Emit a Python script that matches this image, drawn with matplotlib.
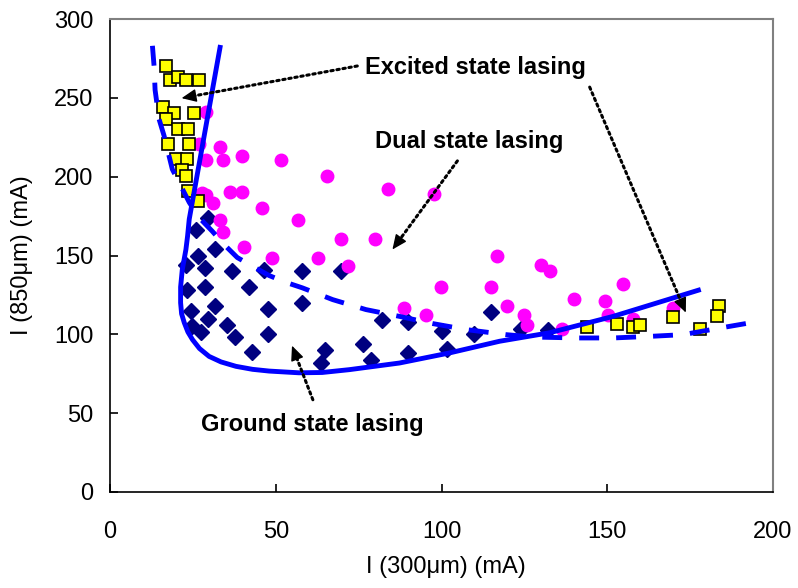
import matplotlib
matplotlib.use("Agg")
import matplotlib.pyplot as plt
import numpy as np

plt.rcParams['font.family'] = ['Liberation Sans', 'DejaVu Sans']

# ---- data ----
# Ground state lasing (navy diamonds)
gs_x = [29.7, 25.9, 31.7, 26.4, 23.0, 28.7, 36.8, 46.5, 23.2, 28.7, 41.8, 24.4, 31.7, 29.7,
        24.7, 27.4, 35.4, 37.7, 42.8, 47.7, 47.7, 57.8, 69.7, 57.8, 82.0, 89.8, 100.0, 64.9,
        63.7, 76.4, 78.8, 89.8, 101.7, 114.8, 109.8, 124.0, 132.0]
gs_y = [174, 166, 154, 150, 144, 142, 140, 141, 128, 130, 130, 115, 118, 110,
        105, 101.5, 106, 98, 89, 116, 100, 140, 140, 120, 109, 108, 102, 90,
        82, 94, 84, 88, 90.5, 114, 100, 103.6, 103]

# Dual state lasing (magenta circles)
ds_x = [28.9, 26.9, 33.2, 28.9, 34.2, 39.8, 51.7, 65.6, 27.9, 29.1, 31.1, 36.2, 39.8, 45.8,
        33.2, 34.2, 40.3, 48.9, 56.6, 83.8, 97.7, 69.7, 79.8, 62.8, 71.7, 99.9, 88.8, 95.4,
        116.8, 114.8, 119.8, 129.9, 132.8, 124.9, 125.9, 136.4, 139.9, 149.4, 154.8, 150.3,
        157.8, 169.9]
ds_y = [240.7, 220.6, 218.9, 210.6, 210.6, 212.8, 210.6, 200.4, 189.9, 188.2, 183.5, 190.3,
        190.3, 180.3, 172.5, 165.1, 155.3, 148.1, 172.5, 192.4, 189.3, 160.2, 160.2, 148.1,
        143.2, 129.9, 116.8, 112.1, 150, 130.1, 117.8, 143.9, 140.1, 112.1, 105.7, 103.6,
        122.1, 121, 132, 112.5, 109.8, 116.8]

# Excited state lasing (yellow squares)
es_x = [17.0, 18.0, 20.5, 23.0, 26.7, 16.0, 19.3, 25.4, 17.0, 20.6, 23.6, 17.6, 23.7, 19.8,
        23.3, 21.8, 23.0, 23.4, 26.4,
        143.9, 152.8, 157.8, 159.8, 169.9, 178.0, 183.8, 183.0]
es_y = [270, 261, 263, 261, 261, 244.5, 240.5, 240.5, 236.5, 230.5, 230.5, 220.5, 220.5, 211,
        211, 204.5, 200.5, 191, 184.5,
        104.5, 106.6, 104.7, 105.7, 110.8, 103.6, 117.8, 111.9]

# Boundary: ground state threshold (solid line)
solid_x = [33.2, 23.9, 23.4, 22.9, 21.8, 21.3, 21.3, 21.6, 22.4, 23.5, 24.9, 27.0, 29.9, 33.5,
           38.0, 43.0, 48.0, 57.0, 64.0, 72.2, 87.3, 102.4, 117.5, 132.6, 151.8, 177.5]
solid_y = [282, 173, 162.3, 153.8, 141, 130, 120, 113, 107.4, 101.5, 96.6, 91, 86, 82.5,
           79.7, 77.8, 76.7, 75.6, 75.8, 77.6, 81.8, 88.2, 95.6, 101, 111.4, 128]

# Boundary: excited state threshold (dashed line)
dash_x = [12.8, 13.3, 13.6, 14.8, 16.3, 18.8, 23.9, 26.9, 30.8, 34.4, 38.4, 43.0, 48.0, 53.0,
          58.0, 67.2, 77.2, 87.3, 97.4, 107.5, 119.5, 127.6, 140.7, 151.8, 162.8, 172.9,
          184.0, 192.8]
dash_y = [283, 270, 255, 236.5, 226, 204.7, 183.7, 174, 165.5, 157, 148.7, 143.2, 137.3, 133,
          129.5, 122, 115.7, 111.4, 106.8, 103, 99.8, 98.3, 97.7, 97.7, 98.7, 99.8, 104, 107.2]

# Annotations: text, text position, arrows (start, tip)
labels = ["Excited state lasing", "Dual state lasing", "Ground state lasing"]
label_pos = [(77.0, 269.5), (79.8, 222.5), (27.5, 42.6)]
arrows = [((74.6, 270.2), (21.6, 249.8)),
          ((144.7, 256.8), (173.7, 113.8)),
          ((104.8, 210.0), (85.2, 153.8)),
          ((61.2, 58.5), (54.9, 92.8))]

x_ticks = [0, 50, 100, 150, 200]
y_ticks = [0, 50, 100, 150, 200, 250, 300]

# ---- figure ----
fig = plt.figure(figsize=(7.98, 5.88), dpi=100)
ax = fig.add_axes([110/798, 1 - 492/588, 663/798, 473/588])
ax.set_xlim(0, 200)
ax.set_ylim(0, 300)

ax.plot(gs_x, gs_y, linestyle='none', marker='D', ms=8.3, mfc='#000080', mec='#000080',
        zorder=2)
ax.plot(ds_x, ds_y, linestyle='none', marker='o', ms=9, mfc='#FF00FF', mec='#FF00FF',
        zorder=3)
ax.plot(es_x, es_y, linestyle='none', marker='s', ms=8.3, mfc='#FFFF00', mec='black',
        mew=1.2, zorder=4)
ax.plot(solid_x, solid_y, color='#0000FF', lw=3.5, zorder=5, solid_joinstyle='round')
ax.plot(dash_x, dash_y, color='#0000FF', lw=3.5, dashes=(4.1, 3.5), zorder=5)

for txt, (tx, ty) in zip(labels, label_pos):
    ax.text(tx, ty, txt, fontsize=17, fontweight='bold', ha='left', va='center', zorder=7)

for (sx, sy), (ex, ey) in arrows:
    # dotted shaft
    ax.annotate('', xy=(ex, ey), xytext=(sx, sy), zorder=6,
                arrowprops=dict(arrowstyle='-', color='black', lw=2.2,
                                linestyle=(0, (0.8, 1.2)), shrinkA=0, shrinkB=8))
    # solid filled head
    p0 = ax.transData.transform((sx, sy))
    p1 = ax.transData.transform((ex, ey))
    d = (p1 - p0) / np.hypot(*(p1 - p0))
    off = -d * 9.0 * 72 / 100  # offset in points, 9 px back from tip
    ax.annotate('', xy=(ex, ey), xytext=(off[0], off[1]), textcoords='offset points',
                zorder=6,
                arrowprops=dict(arrowstyle='-|>,head_length=0.45,head_width=0.2',
                                mutation_scale=20, color='black', lw=1,
                                shrinkA=0, shrinkB=0))

ax.set_xticks(x_ticks)
ax.set_yticks(y_ticks)
ax.tick_params(axis='both', direction='in', length=6, width=1.2, labelsize=17, color='black')
ax.tick_params(axis='x', pad=21)
ax.tick_params(axis='y', pad=12)

for s in ['left', 'bottom']:
    ax.spines[s].set_color('black')
    ax.spines[s].set_linewidth(1.2)
for s in ['top', 'right']:
    ax.spines[s].set_color('#808080')
    ax.spines[s].set_linewidth(1.5)

ax.set_xlabel('I (300μm) (mA)', fontsize=17)
ax.set_ylabel('I (850μm) (mA)', fontsize=17)
ax.xaxis.label.set_va('center')
ax.yaxis.label.set_va('center')
ax.xaxis.set_label_coords(0.507, -0.1586)
ax.yaxis.set_label_coords(-0.1327, 0.5)

fig.savefig('out.png', dpi=100)
